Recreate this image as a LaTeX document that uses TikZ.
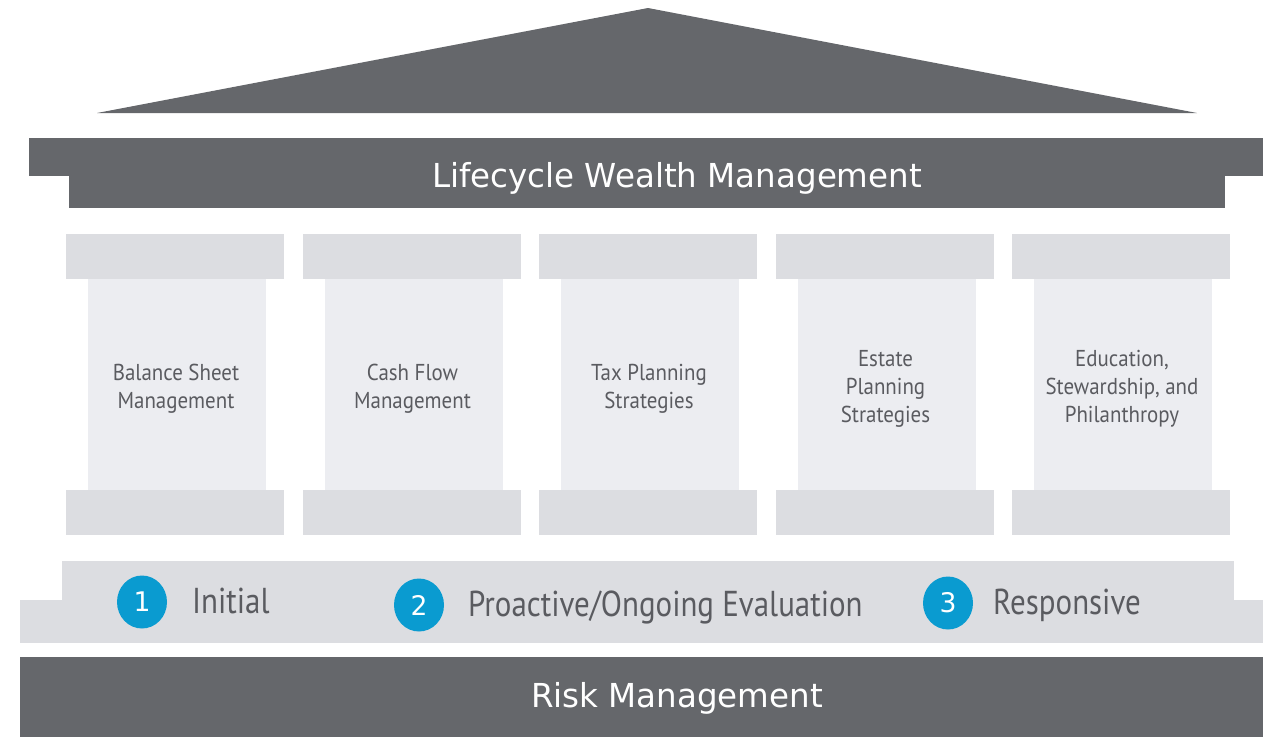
\documentclass[tikz,border=0pt]{standalone}
\usepackage{fontspec}
\usetikzlibrary{shapes.geometric}
\setmainfont{DejaVu Sans}
\newfontfamily\titlefont[FakeStretch=0.985]{DejaVu Sans}
\newfontfamily\pillarfont[FakeStretch=0.91]{PT Sans}
\newfontfamily\stepfont[FakeStretch=0.86]{PT Sans}

\definecolor{slate}{HTML}{65676B}
\definecolor{capgray}{HTML}{DCDDE1}
\definecolor{shaftgray}{HTML}{ECEDF1}
\definecolor{pillartext}{HTML}{5A5B60}
\definecolor{stepblue}{HTML}{0A9BD0}

\tikzset{
	capital/.style={fill=capgray},
	shaft/.style={fill=shaftgray},
	pillarlabel/.style={text=pillartext, align=center, inner sep=0pt,
		font=\pillarfont\fontsize{23}{28}\selectfont},
	stepdot/.style={ellipse, fill=stepblue, minimum width=50, minimum height=53,
		inner sep=0pt, text=white, font=\titlefont\fontsize{27}{27}\selectfont},
	steplabel/.style={anchor=base west, inner sep=0pt, text=pillartext,
		font=\stepfont\fontsize{36}{36}\selectfont},
	bandlabel/.style={anchor=base, inner sep=0pt, text=white,
		font=\titlefont\fontsize{33}{33}\selectfont}
}

\begin{document}
\begin{tikzpicture}[x=1pt, y=-1pt]
		\useasboundingbox (0,0) rectangle (1263,737);
		
		%roof
		\fill[slate] (97,113) -- (648,8) -- (1197,113) -- cycle;
		
		%beam
		\fill[slate] (29,138) rectangle (1263,176);
		\fill[slate] (69,176) rectangle (1225,208);
		\node[bandlabel] (lifecycle) at (677,187) {Lifecycle Wealth Management};
		
		%pillars
		\foreach \txt [count=\i from 0] in {{Balance Sheet\\Management}, {Cash Flow\\Management},
			{Tax Planning\\Strategies}, {Estate\\Planning\\Strategies},
			{Education,\\Stewardship, and\\Philanthropy}}{
			\pgfmathsetmacro\xl{66+236.5*\i}
			\fill[capital] (\xl,234) rectangle ++(218,45);
			\fill[shaft] (\xl+22,279) rectangle ++(178,211);
			\fill[capital] (\xl,490) rectangle ++(218,45);
			\node[pillarlabel] (pillar\i) at (\xl+110,389) {\txt};
		}
		
		%steps
		\fill[capgray] (62,561) rectangle (1234,600);
		\fill[capgray] (20,600) rectangle (1263,643);
		\node[stepdot] (dot1) at (142,602) {1};
		\node[stepdot] (dot2) at (419,605) {2};
		\node[stepdot] (dot3) at (948,603) {3};
		\node[steplabel] (initial) at (192,613) {Initial};
		\node[steplabel] (ongoing) at (468,616) {Proactive/Ongoing Evaluation};
		\node[steplabel] (responsive) at (993,614) {Responsive};
		
		%foundation
		\fill[slate] (20,657) rectangle (1263,737);
		\node[bandlabel] (risk) at (677,707) {Risk Management};
\end{tikzpicture}
\end{document}
